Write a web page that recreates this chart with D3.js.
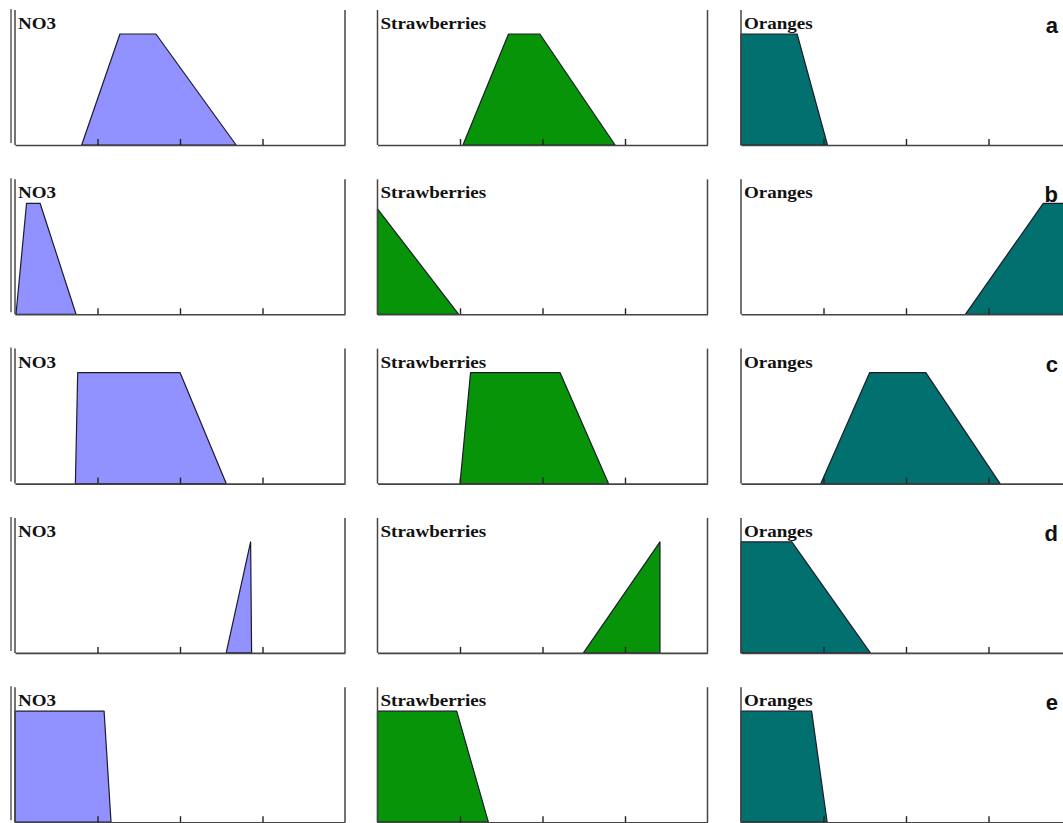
<!DOCTYPE html>
<html>
<head>
<meta charset="utf-8">
<script src="https://cdnjs.cloudflare.com/ajax/libs/d3/7.8.5/d3.min.js"></script>
<style>
  html, body { margin: 0; padding: 0; background: #fff; }
  svg { display: block; }
</style>
</head>
<body>
<svg id="chart" width="1063" height="823"></svg>
<script>
// Membership functions: [position (0-100), membership degree] for each scenario row a–e
const variables = ["NO3", "Strawberries", "Oranges"];
const scenarios = ["a", "b", "c", "d", "e"];
const xTicks = [25, 50, 75];

const no3Shapes = [
  [[20.2, 0], [31.8, 1], [42.7, 1], [67, 0]],
  [[0.3, 0], [3.5, 1], [7.6, 1], [18.5, 0]],
  [[18.3, 0], [19, 1], [50, 1], [64, 0]],
  [[64, 0], [71.4, 1], [71.7, 0]],
  [[0, 0], [0, 1], [27, 1], [29.1, 0]]
];
const strawberryShapes = [
  [[25.9, 0], [39.7, 1], [49.2, 1], [72, 0]],
  [[0, 0], [0, 0.95], [24.6, 0]],
  [[25, 0], [28.2, 1], [55.3, 1], [70, 0]],
  [[62.4, 0], [85.6, 1], [85.6, 0]],
  [[0, 0], [0, 1], [24, 1], [33.6, 0]]
];
const orangeShapes = [
  [[0, 0], [0, 1], [17, 1], [26.2, 0]],
  [[68, 0], [91.6, 1], [100, 1], [100, 0]],
  [[24.2, 0], [39, 1], [56, 1], [78.5, 0]],
  [[0, 0], [0, 1], [15.4, 1], [39.2, 0]],
  [[0, 0], [0, 1], [21.4, 1], [26.1, 0]]
];

const shapesByVariable = [no3Shapes, strawberryShapes, orangeShapes];
const fills = ["#9191ff", "#089408", "#037070"];

// Layout
const colLeft = [15, 377.5, 741];
const panelWidth = 330;
const firstBaseline = 145;
const rowStep = 169.3;
const peakHeight = 111;   // pixel height of membership 1
const frameTopValue = 1.216;

const svg = d3.select("#chart");
const line = d3.line();

scenarios.forEach((sc, r) => {
  const base = firstBaseline + r * rowStep;
  const y = d3.scaleLinear().domain([0, 1]).range([base, base - peakHeight]);
  const top = y(frameTopValue);

  variables.forEach((name, c) => {
    const x = d3.scaleLinear().domain([0, 100]).range([colLeft[c], colLeft[c] + panelWidth]);
    const g = svg.append("g");

    // membership polygon
    const pts = shapesByVariable[c][r].map(d => [x(d[0]), y(d[1])]);
    g.append("path")
      .attr("d", line(pts) + "Z")
      .attr("fill", fills[c])
      .attr("stroke", "#1c1c2a")
      .attr("stroke-width", 1.2)
      .attr("stroke-linejoin", "round");

    // frame: left and right verticals
    const frameColor = "#444";
    g.append("line")
      .attr("x1", x(0)).attr("x2", x(0)).attr("y1", top).attr("y2", base)
      .attr("stroke", frameColor).attr("stroke-width", 1.5);
    g.append("line")
      .attr("x1", x(100)).attr("x2", x(100)).attr("y1", top).attr("y2", base)
      .attr("stroke", frameColor).attr("stroke-width", 1.5);
    if (c === 0) {
      g.append("line")
        .attr("x1", x(0) - 4).attr("x2", x(0) - 4).attr("y1", top - 1).attr("y2", base - 2)
        .attr("stroke", frameColor).attr("stroke-width", 1.3);
    }

    // bottom axis with inward ticks, no labels
    const axis = d3.axisBottom(x).tickValues(xTicks).tickSizeInner(-6).tickSizeOuter(0).tickFormat("");
    const ax = g.append("g").attr("transform", `translate(0,${base})`).call(axis);
    ax.select(".domain").attr("stroke", frameColor).attr("stroke-width", 1.6);
    ax.selectAll(".tick line").attr("stroke", "#222").attr("stroke-width", 1.4);

    // panel label
    const lx = x(0) + 3, ly = y(1) - 5;
    g.append("text")
      .attr("transform", `translate(${lx},${ly}) scale(1.19,1)`)
      .attr("font-family", "'Liberation Serif', 'Times New Roman', serif")
      .attr("font-weight", "bold")
      .attr("font-size", 16)
      .attr("fill", "#111")
      .text(name);
  });

  // scenario letter
  svg.append("text")
    .attr("x", 1058)
    .attr("y", top + 23)
    .attr("text-anchor", "end")
    .attr("font-family", "'Liberation Sans', Arial, sans-serif")
    .attr("font-weight", "bold")
    .attr("font-size", 22)
    .attr("fill", "#111")
    .text(sc);
});
</script>
</body>
</html>
